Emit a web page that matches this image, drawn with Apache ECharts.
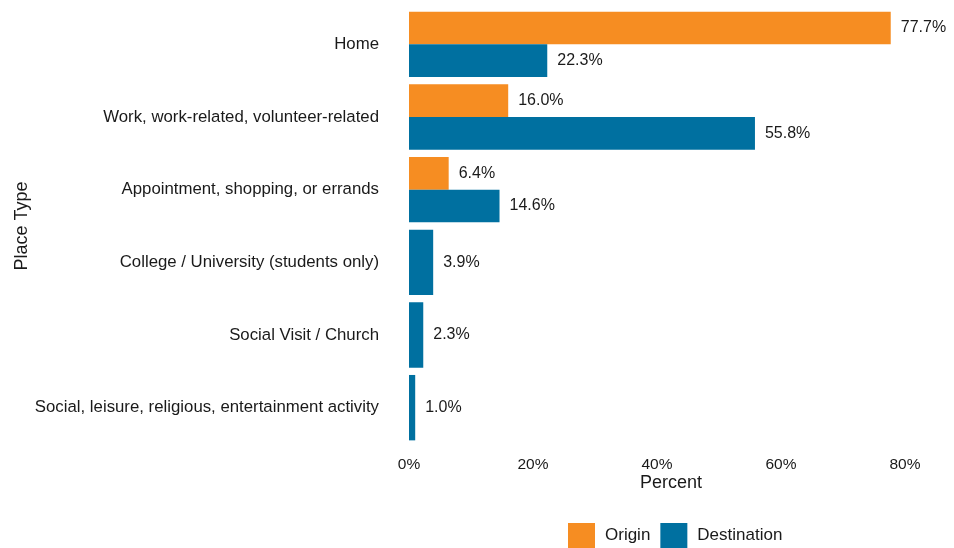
<!DOCTYPE html>
<html>
<head>
<meta charset="utf-8">
<script src="https://cdn.jsdelivr.net/npm/echarts@6/dist/echarts.min.js"></script>
<style>
  html, body { margin: 0; padding: 0; background: #fff; }
  #chart { width: 954px; height: 548px; }
</style>
</head>
<body>
<div id="chart"></div>
<script>
// Trip ends by place type (percent of trips)
const categories = [
  'Home',
  'Work, work-related, volunteer-related',
  'Appointment, shopping, or errands',
  'College / University (students only)',
  'Social Visit / Church',
  'Social, leisure, religious, entertainment activity'
];
const originValues = [77.7, 16.0, 6.4, null, null, null];
const destinationValues = [22.3, 55.8, 14.6, 3.9, 2.3, 1.0];
const xTicks = [0, 20, 40, 60, 80];

const ORANGE = '#F68D22';
const BLUE = '#0070A0';
const FONT = 'Liberation Sans, Arial, sans-serif';
const TEXT = '#1a1a1a';

// Categories that have both measures are dodged side by side;
// categories with only a destination share use the full band.
const pairedDest = destinationValues.map((v, i) => originValues[i] == null ? null : v);
const singleDest = destinationValues.map((v, i) => originValues[i] == null ? v : null);

const valueLabel = {
  show: true,
  position: 'right',
  distance: 10,
  fontFamily: FONT,
  fontSize: 16,
  color: TEXT,
  formatter: p => p.value.toFixed(1) + '%'
};

const chart = echarts.init(document.getElementById('chart'), null, { renderer: 'canvas' });
chart.setOption({
  animation: false,
  backgroundColor: '#ffffff',
  grid: { left: 409, top: 8, width: 496, height: 436, containLabel: false },
  legend: {
    top: 518,
    left: 563,
    padding: 5,
    itemWidth: 27,
    itemHeight: 25,
    itemGap: 10,
    icon: 'rect',
    textStyle: { fontFamily: FONT, fontSize: 17, color: TEXT, padding: [0, 0, 0, 5] },
    data: ['Origin', 'Destination']
  },
  xAxis: {
    type: 'value',
    min: xTicks[0],
    max: xTicks[xTicks.length - 1],
    interval: 20,
    splitLine: { show: false },
    axisLine: { show: false },
    axisTick: { show: false },
    axisLabel: {
      margin: 13,
      fontFamily: FONT,
      fontSize: 15.5,
      color: TEXT,
      formatter: v => v + '%'
    },
    name: 'Percent',
    nameLocation: 'middle',
    nameGap: 30,
    nameMoveOverlap: false,
    nameTextStyle: { fontFamily: FONT, fontSize: 18, color: TEXT, padding: [0, 0, 0, 28] }
  },
  yAxis: [
    {
      type: 'category',
      inverse: true,
      data: categories,
      axisLine: { show: false },
      axisTick: { show: false },
      axisLabel: { margin: 30, fontFamily: FONT, fontSize: 16.8, color: TEXT },
      name: 'Place Type',
      nameLocation: 'middle',
      nameRotate: 90,
      nameGap: 378,
      nameMoveOverlap: false,
      nameTextStyle: { fontFamily: FONT, fontSize: 18, color: TEXT }
    },
    {
      type: 'category',
      inverse: true,
      data: categories,
      show: false
    }
  ],
  series: [
    {
      name: 'Origin',
      type: 'bar',
      yAxisIndex: 0,
      data: originValues,
      itemStyle: { color: ORANGE },
      label: valueLabel,
      barGap: '0%',
      barCategoryGap: '10%'
    },
    {
      name: 'Destination',
      type: 'bar',
      yAxisIndex: 0,
      data: pairedDest,
      itemStyle: { color: BLUE },
      label: valueLabel,
      barGap: '0%',
      barCategoryGap: '10%'
    },
    {
      name: 'Destination',
      type: 'bar',
      yAxisIndex: 1,
      data: singleDest,
      itemStyle: { color: BLUE },
      label: valueLabel,
      barCategoryGap: '10%'
    }
  ]
});
</script>
</body>
</html>
